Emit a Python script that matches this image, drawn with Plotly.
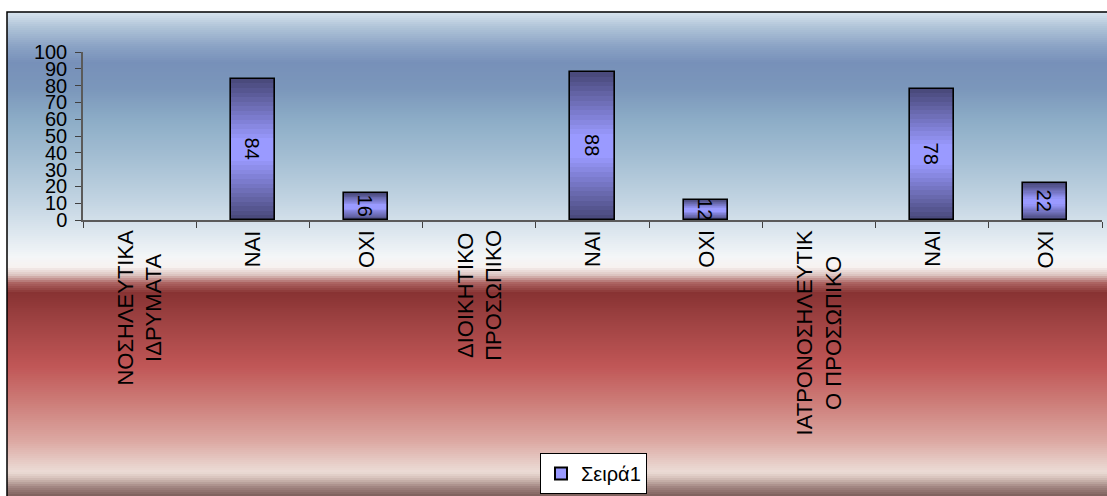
import plotly.graph_objects as go

# ---- data ----
categories = ["ΝΟΣΗΛΕΥΤΙΚΑ<br>ΙΔΡΥΜΑΤΑ", "ΝΑΙ", "ΟΧΙ",
              "ΔΙΟΙΚΗΤΙΚΟ<br>ΠΡΟΣΩΠΙΚΟ", "ΝΑΙ", "ΟΧΙ",
              "ΙΑΤΡΟΝΟΣΗΛΕΥΤΙΚ<br>Ο ΠΡΟΣΩΠΙΚΟ", "ΝΑΙ", "ΟΧΙ"]
values = [None, 84, 16, None, 88, 12, None, 78, 22]
series_name = "Σειρά1"
y_ticks = [0, 10, 20, 30, 40, 50, 60, 70, 80, 90, 100]

W, H = 1107, 496
L, R, T, B = 83, 5, 52, 276
PH = H - T - B
PW = W - L - R
FONT = "Liberation Sans, Arial, sans-serif"

xpos = list(range(len(categories)))


def hex2rgb(h):
    h = h.lstrip("#")
    return tuple(int(h[i:i + 2], 16) for i in (0, 2, 4))


def lerp(c1, c2, t):
    a, b = hex2rgb(c1), hex2rgb(c2)
    return "rgb(%d,%d,%d)" % tuple(round(a[i] + (b[i] - a[i]) * t) for i in range(3))


def py2paper(py):
    return (H - B - py) / PH


def px2paper(px):
    return (px - L) / PW


fig = go.Figure()

# ---- gradient bars built from stacked overlay layers ----
dark, light = "#4a4a7c", "#9a9aff"
n_layers = 14
for k in range(n_layers):
    f = 0.42 * k / (n_layers - 1)
    t = k / (n_layers - 1)
    bases = [None if v is None else v * f for v in values]
    heights = [None if v is None else v * (1 - 2 * f) for v in values]
    fig.add_trace(go.Bar(x=xpos, y=heights, base=bases, width=0.39,
                         marker=dict(color=lerp(dark, light, t), line=dict(width=0)),
                         showlegend=False, hoverinfo="skip"))

# outline + labels on top
fig.add_trace(go.Bar(x=xpos, y=values, width=0.39,
                     marker=dict(color="rgba(0,0,0,0)", line=dict(color="black", width=1.6)),
                     text=[None if v is None else str(v) for v in values],
                     textposition="inside", insidetextanchor="middle", textangle=90,
                     textfont=dict(family=FONT, size=20, color="black"),
                     showlegend=False, cliponaxis=False))

# legend entry
fig.add_trace(go.Scatter(x=[None], y=[None], mode="markers", name=series_name,
                         marker=dict(symbol="square", size=13, color="#9999ff",
                                     line=dict(color="black", width=1))))

# ---- background gradient strips ----
stops = [
    (12, "#d6e2ed"), (25, "#b2c6d9"), (45, "#8ba3c5"), (62, "#7790b9"),
    (88, "#7b97bb"), (120, "#8dadc7"), (160, "#a6c0d4"), (200, "#c2d4e2"),
    (235, "#e0e9f0"), (256, "#f4f6f8"), (266, "#f7f2f0"), (274, "#dcc4c0"),
    (282, "#ac6462"), (292, "#883333"), (320, "#9e4242"), (365, "#c05656"),
    (400, "#cc7b77"), (440, "#dca8a2"), (460, "#e6cac4"), (471, "#ecdcd6"),
    (477, "#d6c2ba"), (486, "#a28682"), (496, "#785a56"),
]
shapes = []
step = 2
y = 12
while y < H:
    col = stops[-1][1]
    for (y0, c0), (y1, c1) in zip(stops[:-1], stops[1:]):
        if y0 <= y <= y1:
            col = lerp(c0, c1, (y - y0) / (y1 - y0) if y1 > y0 else 0)
            break
    shapes.append(dict(type="rect", xref="paper", yref="paper",
                       x0=px2paper(7), x1=px2paper(W + 10),
                       y0=py2paper(y + step + 0.6), y1=py2paper(y),
                       fillcolor=col, line=dict(width=0), layer="below"))
    y += step

# outer border
shapes.append(dict(type="rect", xref="paper", yref="paper",
                   x0=px2paper(7), x1=px2paper(W + 20),
                   y0=py2paper(H + 20), y1=py2paper(12),
                   fillcolor="rgba(0,0,0,0)", line=dict(color="black", width=1.5),
                   layer="above"))

# category labels (centred multi-line, rotated)
annotations = [dict(x=xp, y=py2paper(228), xref="x", yref="paper",
                    text=lab, textangle=-90, showarrow=False,
                    xanchor="center", yanchor="top", align="center",
                    font=dict(family=FONT, size=22, color="black"))
               for xp, lab in zip(xpos, categories)]

fig.update_layout(
    width=W, height=H,
    margin=dict(l=L, r=R, t=T, b=B, pad=0, autoexpand=False),
    paper_bgcolor="white", plot_bgcolor="rgba(0,0,0,0)",
    barmode="overlay", bargap=0,
    shapes=shapes, annotations=annotations,
    font=dict(family=FONT, size=20, color="black"),
    uniformtext=dict(minsize=20, mode="show"),
    showlegend=True,
    legend=dict(xref="container", yref="container", x=540 / W, y=1 - 453 / H,
                xanchor="left", yanchor="top",
                bgcolor="white", bordercolor="black", borderwidth=1,
                font=dict(family=FONT, size=20, color="black"),
                itemsizing="constant"),
)

fig.update_xaxes(
    range=[-0.5, len(categories) - 0.5], automargin=False,
    tickmode="array", tickvals=xpos, showticklabels=False,
    ticks="", showgrid=False, zeroline=False,
    showline=True, linecolor="#5a5a5a", linewidth=1.5,
    minor=dict(tickmode="array",
               tickvals=[i - 0.5 for i in range(len(categories) + 1)],
               ticks="outside", ticklen=6, tickcolor="#404040", tickwidth=1),
)
fig.update_yaxes(
    range=[0, 100], tickmode="array", tickvals=y_ticks, automargin=False,
    ticks="outside", ticklen=6, tickcolor="#404040", tickwidth=1,
    showgrid=False, zeroline=False,
    showline=True, linecolor="#5a5a5a", linewidth=1.5,
    tickfont=dict(family=FONT, size=20, color="black"),
    ticklabelstandoff=4,
)

fig.write_html("out.html", config={"displayModeBar": False},
               post_script="document.body.style.margin='0';document.body.style.padding='0';")
